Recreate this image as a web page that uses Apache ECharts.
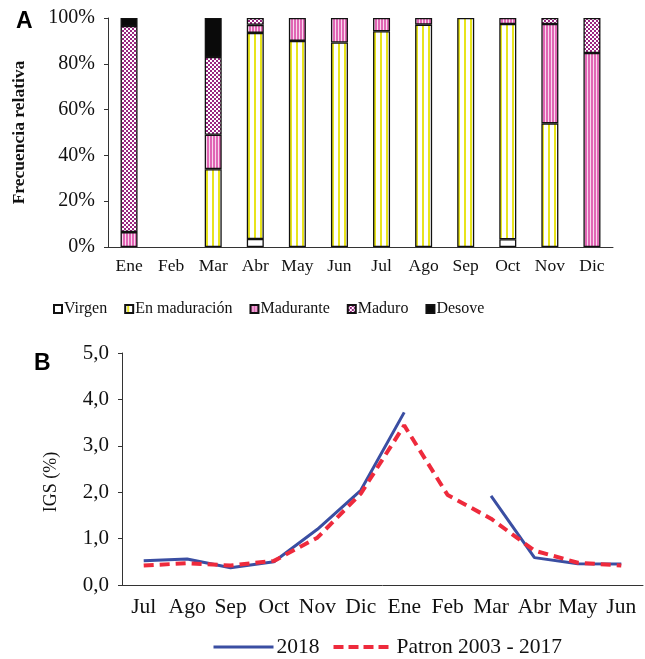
<!DOCTYPE html>
<html>
<head>
<meta charset="utf-8">
<script src="https://cdn.jsdelivr.net/npm/echarts@6/dist/echarts.min.js"></script>
<style>
  html, body { margin: 0; padding: 0; background: #fff; }
  #chart { width: 645px; height: 659px; }
</style>
</head>
<body>
<div id="chart"></div>
<script>
// panel A - frecuencia relativa por estadio
const mesesA = ['Ene','Feb','Mar','Abr','May','Jun','Jul','Ago','Sep','Oct','Nov','Dic']
const virgen     = [null, null, null, 3.5, null, null, null, null, null, 3.4, null, null]
const enMaduracion = [null, null, 34, 90, 90, 89.3, 94.2, 97.1, 100, 94, 54, null]
const madurante  = [6.5, null, 15, 3.5, 10, 10.7, 5.8, 2.9, null, 2.6, 43.4, 84.7]
const maduro     = [90, null, 34, 3, null, null, null, null, null, null, 2.6, 15.3]
const desove     = [3.5, null, 17, null, null, null, null, null, null, null, null, null]

// panel B - IGS
const mesesB = ['Jul','Ago','Sep','Oct','Nov','Dic','Ene','Feb','Mar','Abr','May','Jun']
const igs2018 = [0.52, 0.56, 0.37, 0.5, 1.2, 2.04, 3.72, null, 1.92, 0.59, 0.46, 0.45]
const patron  = [0.42, 0.47, 0.42, 0.52, 1.02, 1.97, 3.44, 1.94, 1.43, 0.74, 0.48, 0.42]

const serif = 'Liberation Serif'

// little canvas patterns for the bar fills
function pattern(w, h, draw) {
  const c = document.createElement('canvas')
  c.width = w; c.height = h
  const ctx = c.getContext('2d')
  draw(ctx)
  return { image: c, repeat: 'repeat' }
}
const yellowStripes = pattern(6, 6, ctx => {
  ctx.fillStyle = '#ffffff'; ctx.fillRect(0, 0, 6, 6)
  ctx.fillStyle = '#e8e41c'; ctx.fillRect(2, 0, 2, 6)
})
const pinkStripes = pattern(3, 3, ctx => {
  ctx.fillStyle = '#e066b4'; ctx.fillRect(0, 0, 3, 3)
  ctx.fillStyle = '#f8d8ee'; ctx.fillRect(2, 0, 1, 3)
})
const checker = pattern(4, 4, ctx => {
  ctx.fillStyle = '#ffffff'; ctx.fillRect(0, 0, 4, 4)
  ctx.fillStyle = '#98267f'; ctx.fillRect(0, 0, 2, 2); ctx.fillRect(2, 2, 2, 2)
})

const chart = echarts.init(document.getElementById('chart'))

function barSerie(name, data, fill) {
  return {
    name: name, type: 'bar', stack: 'a', xAxisIndex: 0, yAxisIndex: 0,
    barWidth: 17, data: data,
    itemStyle: { color: fill, borderColor: '#111', borderWidth: 1.3 },
    emphasis: { disabled: true }
  }
}

const options = {
  animation: false,
  title: [
    { text: 'A', left: 11, top: 5, textStyle: { fontFamily: 'Liberation Sans', fontWeight: 'bold', fontSize: 23, color: '#000' } },
    { text: 'B', left: 29, top: 347, textStyle: { fontFamily: 'Liberation Sans', fontWeight: 'bold', fontSize: 23, color: '#000' } }
  ],
  legend: [
    {
      left: 53, top: 301, padding: 0, itemWidth: 8, itemHeight: 8, itemGap: 17,
      icon: 'rect',
      data: ['Virgen', 'En maduración', 'Madurante', 'Maduro', 'Desove'],
      textStyle: { fontFamily: serif, fontSize: 16, color: '#111', padding: [0, 0, 0, -3] }
    },
    {
      left: 212, top: 636, padding: 0, itemWidth: 60, itemHeight: 14, itemGap: 12,
      data: [
        { name: '2018', lineStyle: { width: 3 } },
        { name: 'Patron 2003 - 2017', lineStyle: { width: 4, type: [10, 5] } }
      ],
      itemStyle: { opacity: 0 },
      textStyle: { fontFamily: serif, fontSize: 21.5, color: '#111', padding: [0, 0, 0, -2] }
    }
  ],
  grid: [
    { left: 108, top: 18, width: 505, height: 229 },
    { left: 122, top: 353, width: 521, height: 232 }
  ],
  xAxis: [
    {
      type: 'category', gridIndex: 0, data: mesesA,
      axisLine: { lineStyle: { color: '#333', width: 1 } },
      axisTick: { length: 5, lineStyle: { color: '#333' } },
      axisLabel: { fontFamily: serif, fontSize: 17.5, color: '#111', margin: 10, interval: 0 }
    },
    {
      type: 'category', gridIndex: 1, data: mesesB,
      axisLine: { lineStyle: { color: '#333', width: 1 } },
      axisTick: { length: 5, lineStyle: { color: '#333' } },
      axisLabel: { fontFamily: serif, fontSize: 21.5, color: '#111', margin: 11, interval: 0 }
    }
  ],
  yAxis: [
    {
      type: 'value', gridIndex: 0, min: 0, max: 100, interval: 20,
      name: 'Frecuencia relativa', nameLocation: 'middle', nameGap: 80,
      nameTextStyle: { fontFamily: serif, fontWeight: 'bold', fontSize: 17.5, color: '#111' },
      axisLine: { show: true, lineStyle: { color: '#333', width: 1 } },
      axisTick: { show: true, length: 4, lineStyle: { color: '#333' } },
      splitLine: { show: false },
      axisLabel: { fontFamily: serif, fontSize: 20, color: '#111', margin: 13, formatter: '{value}%' }
    },
    {
      type: 'value', gridIndex: 1, min: 0, max: 5, interval: 1,
      name: 'IGS (%)', nameLocation: 'middle', nameGap: 62,
      nameTextStyle: { fontFamily: serif, fontSize: 18, color: '#111', padding: [0, 26, 0, 0] },
      axisLine: { show: true, lineStyle: { color: '#333', width: 1 } },
      axisTick: { show: true, length: 4, lineStyle: { color: '#333' } },
      splitLine: { show: false },
      axisLabel: {
        fontFamily: serif, fontSize: 21, color: '#111', margin: 13,
        formatter: v => v.toFixed(1).replace('.', ',')
      }
    }
  ],
  series: [
    barSerie('Virgen', virgen, '#ffffff'),
    barSerie('En maduración', enMaduracion, yellowStripes),
    barSerie('Madurante', madurante, pinkStripes),
    barSerie('Maduro', maduro, checker),
    barSerie('Desove', desove, '#0a0a0a'),
    {
      name: '2018', type: 'line', xAxisIndex: 1, yAxisIndex: 1,
      data: igs2018, symbol: 'none', connectNulls: false, z: 3,
      lineStyle: { color: '#3a4ea2', width: 3 },
      itemStyle: { color: '#3a4ea2' }
    },
    {
      name: 'Patron 2003 - 2017', type: 'line', xAxisIndex: 1, yAxisIndex: 1,
      data: patron, symbol: 'none', z: 4,
      lineStyle: { color: '#ee2a3c', width: 4, type: [10, 6] },
      itemStyle: { color: '#ee2a3c' }
    }
  ]
}
chart.setOption(options)
</script>
</body>
</html>
